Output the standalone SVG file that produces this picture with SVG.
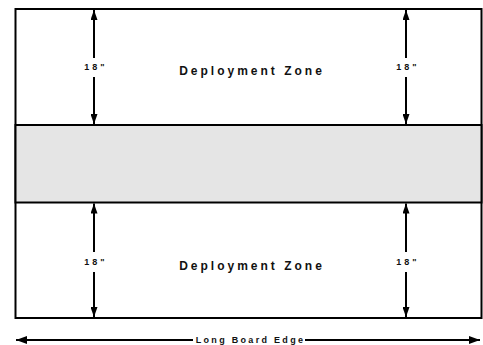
<svg xmlns="http://www.w3.org/2000/svg" width="483" height="345" viewBox="0 0 483 345">
<style>
.frame{fill:#ffffff;stroke:#000;stroke-width:2}
.band{fill:#e5e5e5;stroke:#000;stroke-width:2}
.dim{stroke:#000;stroke-width:2;fill:none}
.lbl{font-family:"Liberation Sans",Arial,sans-serif;font-weight:bold;fill:#111;text-anchor:middle}
.zone{font-size:12px;letter-spacing:3px}
.meas{font-size:9px;letter-spacing:3px}
.edge{font-size:9px;letter-spacing:2.3px}
</style>
<defs>
<marker id="ah" markerUnits="userSpaceOnUse" markerWidth="12" markerHeight="8" refX="11" refY="4" orient="auto-start-reverse">
<path d="M0,0 L11,4 L0,8 Z" fill="#000"/>
</marker>
<marker id="ahs" markerUnits="userSpaceOnUse" markerWidth="11" markerHeight="7" refX="10" refY="3.5" orient="auto-start-reverse">
<path d="M0,0 L10,3.5 L0,7 Z" fill="#000"/>
</marker>
</defs>
<g id="board">
<rect class="frame" x="15.5" y="9" width="466" height="309"/>
<rect class="band" x="15.5" y="125" width="466" height="77.5"/>
</g>
<g id="top-zone">
<text class="lbl zone" x="252" y="75">Deployment Zone</text>
</g>
<g id="bottom-zone">
<text class="lbl zone" x="252" y="270">Deployment Zone</text>
</g>
<g id="connectors">
<line class="dim" x1="94" y1="58" x2="94" y2="10" marker-end="url(#ahs)"/>
<line class="dim" x1="94" y1="77" x2="94" y2="124" marker-end="url(#ahs)"/>
<line class="dim" x1="406" y1="58" x2="406" y2="10" marker-end="url(#ahs)"/>
<line class="dim" x1="406" y1="77" x2="406" y2="124" marker-end="url(#ahs)"/>
<line class="dim" x1="94" y1="252" x2="94" y2="203.5" marker-end="url(#ahs)"/>
<line class="dim" x1="94" y1="272" x2="94" y2="317" marker-end="url(#ahs)"/>
<line class="dim" x1="406" y1="252" x2="406" y2="203.5" marker-end="url(#ahs)"/>
<line class="dim" x1="406" y1="272" x2="406" y2="317" marker-end="url(#ahs)"/>
<line class="dim" x1="193" y1="340" x2="16" y2="340" marker-end="url(#ah)"/>
<line class="dim" x1="305" y1="340" x2="480" y2="340" marker-end="url(#ah)"/>
</g>
<g id="labels">
<text class="lbl meas" x="96" y="70">18"</text>
<text class="lbl meas" x="408" y="70">18"</text>
<text class="lbl meas" x="96" y="265">18"</text>
<text class="lbl meas" x="408" y="265">18"</text>
<text class="lbl edge" x="250.5" y="343">Long Board Edge</text>
</g>
</svg>
